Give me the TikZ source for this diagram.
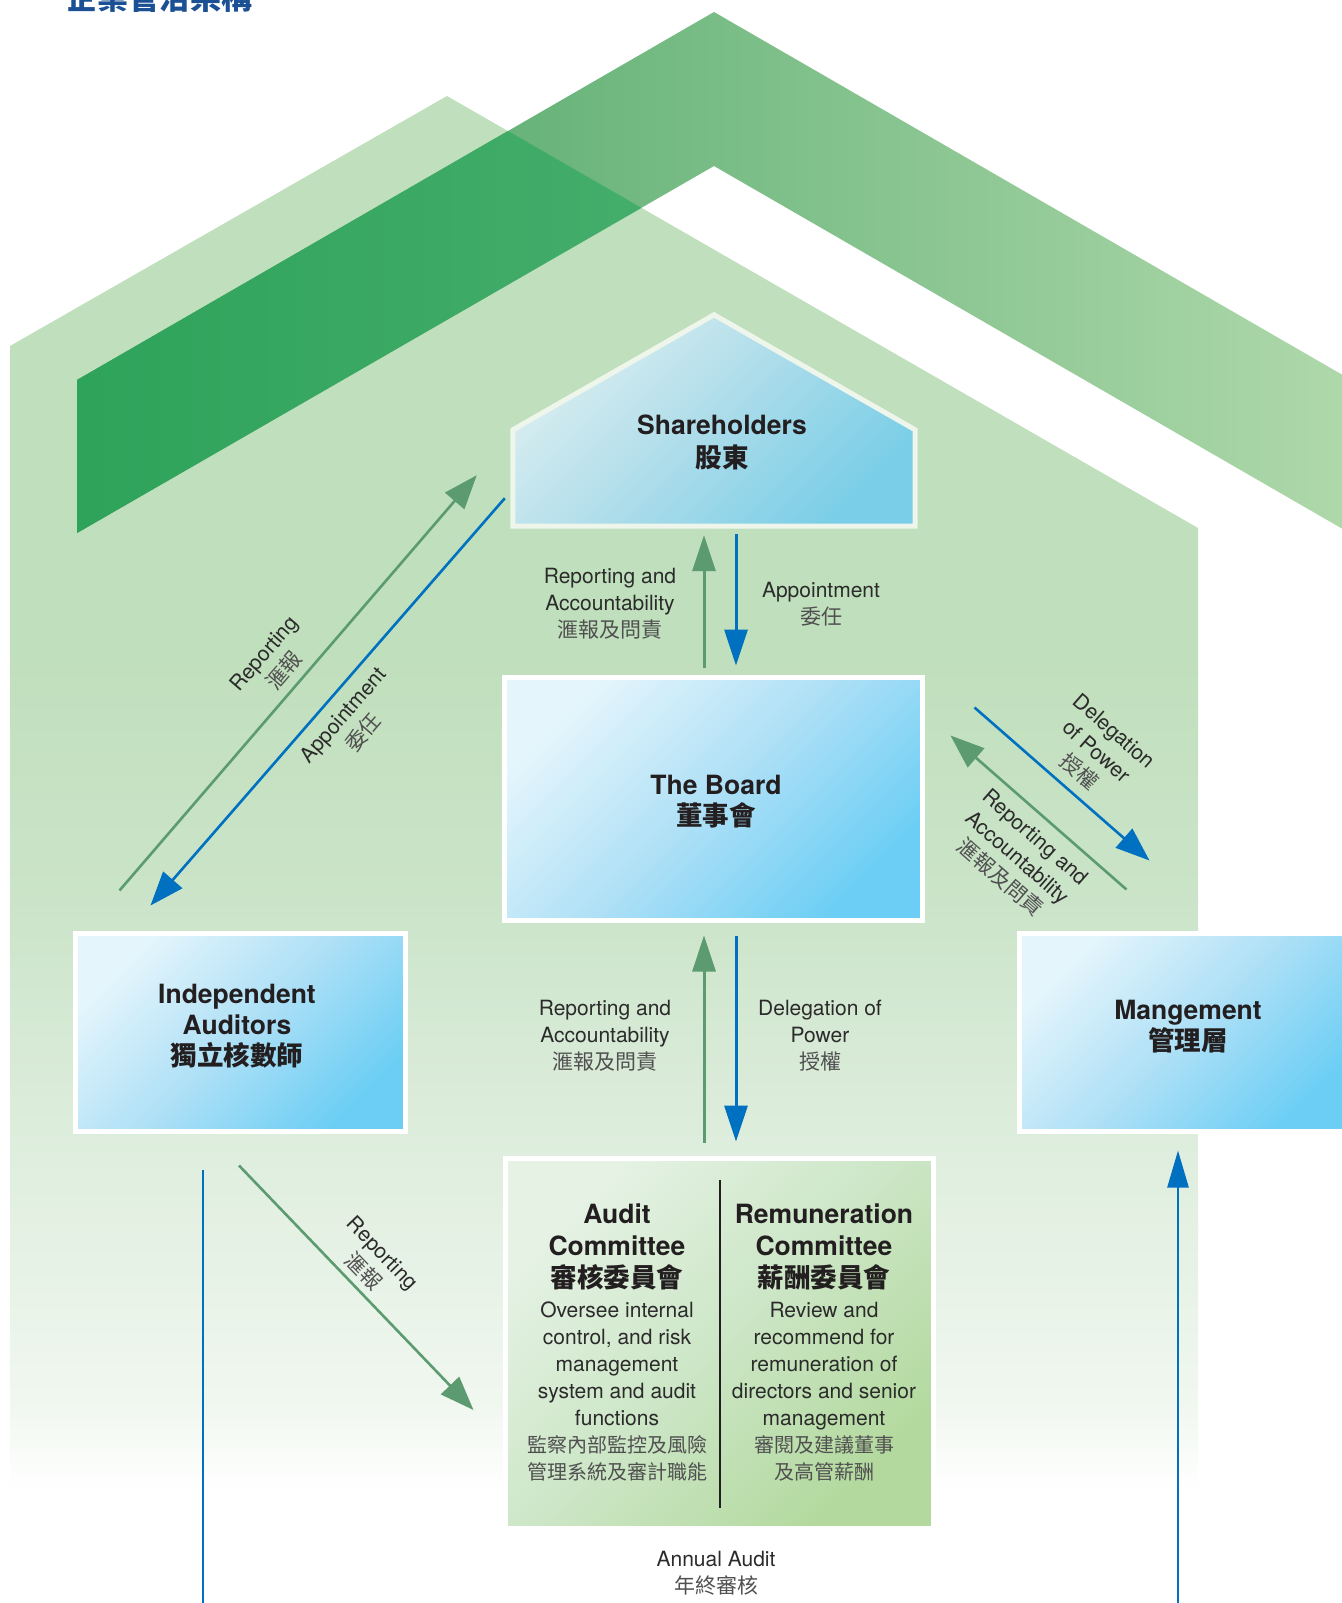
\documentclass[tikz,border=0pt]{standalone}
\usepackage{fontspec}
\setmainfont{TeX Gyre Heros}
\newfontfamily\cjk{Noto Sans CJK TC}
\usetikzlibrary{arrows.meta}

\definecolor{housegreen}{HTML}{C0DFBC}
\definecolor{fadeA}{HTML}{CBE4C9}
\definecolor{fadeB}{HTML}{DBECDA}
\definecolor{fadeC}{HTML}{F0F7EF}
\definecolor{ribL}{HTML}{42A061}
\definecolor{ribR}{HTML}{B0D9AB}
\definecolor{ribDL}{HTML}{2EA35A}
\definecolor{ribDR}{HTML}{60BA81}
\definecolor{boxA}{HTML}{E4F5FC}
\definecolor{boxB}{HTML}{AEE0F6}
\definecolor{boxC}{HTML}{6CCEF5}
\definecolor{shA}{HTML}{DAEEF0}
\definecolor{shB}{HTML}{ACDCEA}
\definecolor{shC}{HTML}{7ACEE7}
\definecolor{shborder}{HTML}{EEF6EC}
\definecolor{comA}{HTML}{E5F2E4}
\definecolor{comB}{HTML}{CCE6C6}
\definecolor{comC}{HTML}{B3D99E}
\definecolor{titlecol}{HTML}{231F20}
\definecolor{labcol}{HTML}{2B2B2B}
\definecolor{zhgray}{HTML}{505050}
\definecolor{arrowgreen}{HTML}{5B9B6F}
\definecolor{arrowblue}{HTML}{0070C0}
\definecolor{titleblue}{HTML}{1B5194}

\newcommand{\headsize}{\fontsize{26.5}{31}\selectfont}
\newcommand{\lblsize}{\fontsize{21}{27}\selectfont}
\newcommand{\zh}[1]{{\cjk\color{zhgray}#1}}

\tikzset{
  bluebox/.style={rectangle, draw=white, line width=5pt, top color=boxA, bottom color=boxC, middle color=boxB, shading angle=45},
  greenbox/.style={rectangle, draw=white, line width=5pt, top color=comA, bottom color=comC, middle color=comB, shading angle=45},
  headtext/.style={align=center, text=titlecol, font=\headsize\bfseries, inner sep=0pt},
  lbl/.style={align=center, text=labcol, font=\lblsize, inner sep=1pt},
  grnline/.style={draw=arrowgreen, line width=2.6pt},
  bluline/.style={draw=arrowblue, line width=2.6pt},
  bigtip/.tip={Triangle[length=36pt, width=23pt]},
  diagtip/.tip={Triangle[length=34pt, width=25pt]}
}

\begin{document}
\begin{tikzpicture}[x=1pt, y=-1pt]
\useasboundingbox (0,0) rectangle (1341,1603);

% background house and its fade
\fill[housegreen] (10,346) -- (447,96) -- (1198,528) -- (1198,650.5) -- (10,650.5) -- cycle;
\shade[top color=housegreen, bottom color=fadeA] (10,650) rectangle (1198,900.5);
\shade[top color=fadeA, bottom color=fadeB] (10,900) rectangle (1198,1100.5);
\shade[top color=fadeB, bottom color=fadeC] (10,1100) rectangle (1198,1400.5);
\shade[top color=fadeC, bottom color=white] (10,1400) rectangle (1198,1492);

% ribbon
\shade[left color=ribL, right color=ribR] (77,380) -- (714,12) -- (1360,385) -- (1360,539) -- (714,166) -- (77,533) -- cycle;
\begin{scope}
  \clip (10,346) -- (447,96) -- (1198,528) -- (1198,1500) -- (10,1500) -- cycle;
  \shade[left color=ribDL, right color=ribDR] (77,380) -- (714,12) -- (1360,385) -- (1360,539) -- (714,166) -- (77,533) -- cycle;
\end{scope}

% title
\node[anchor=base west, inner sep=0pt, text=titleblue, font=\fontsize{31}{31}\selectfont\cjk\bfseries] (title) at (66,10) {企業管治架構};

% boxes
\node[minimum width=402pt, minimum height=96pt, inner sep=0pt] (sh) at (714,478) {};
\path[top color=shA, bottom color=shC, middle color=shB, shading angle=45, draw=shborder, line width=5pt]
  (sh.south west) -- (sh.north west) -- ([yshift=115pt]sh.north) -- (sh.north east) -- (sh.south east) -- cycle;
\node[headtext] (shtext) at (722,442) {Shareholders\\[2pt]{\cjk 股東}};

\node[bluebox, minimum width=418pt, minimum height=243pt] (board) at (713.5,799) {};
\node[headtext] (boardtext) at (716,802) {The Board\\{\cjk 董事會}};

\node[bluebox, minimum width=330pt, minimum height=198pt] (ia) at (240.5,1032.5) {};
\node[headtext] (iatext) at (237,1026) {Independent\\Auditors\\{\cjk 獨立核數師}};

\node[bluebox, minimum width=337pt, minimum height=198pt] (mang) at (1188,1032.5) {};
\node[headtext] (mangtext) at (1188,1027) {Mangement\\{\cjk 管理層}};

\node[greenbox, minimum width=428pt, minimum height=370pt] (comm) at (719.5,1343.5) {};
\draw[titlecol, line width=2pt] ([yshift=-23.5pt]comm.north) -- ([yshift=23.5pt]comm.south);

\node[lbl, inner sep=0pt] (audit) at (617,1342) {{\headsize\bfseries\color{titlecol}Audit}\\[5pt]{\headsize\bfseries\color{titlecol}Committee}\\[5pt]{\headsize\bfseries\color{titlecol}\cjk 審核委員會}\\[3pt]Oversee internal\\control, and risk\\management\\system and audit\\functions\\\zh{\fontsize{20}{26}\selectfont 監察內部監控及風險}\\\zh{\fontsize{20}{26}\selectfont 管理系統及審計職能}};
\node[lbl, inner sep=0pt] (remun) at (824,1342) {{\headsize\bfseries\color{titlecol}Remuneration}\\[5pt]{\headsize\bfseries\color{titlecol}Committee}\\[5pt]{\headsize\bfseries\color{titlecol}\cjk 薪酬委員會}\\[3pt]Review and\\recommend for\\remuneration of\\directors and senior\\management\\\zh{\fontsize{20}{26}\selectfont 審閱及建議董事}\\\zh{\fontsize{20}{26}\selectfont 及高管薪酬}};

% vertical connectors
\coordinate (gx) at (704,0);
\coordinate (bx) at (736,0);
\draw[grnline, line width=3pt, -{bigtip}, shorten <=7.5pt, shorten >=9pt] (board.north -| gx) -- (sh.south -| gx);
\draw[bluline, line width=3pt, -{bigtip}, shorten <=8pt, shorten >=9.5pt] (sh.south -| bx) -- (board.north -| bx);
\draw[grnline, line width=3pt, -{bigtip}, shorten <=13.5pt, shorten >=12.5pt] (comm.north -| gx) -- (board.south -| gx);
\draw[bluline, line width=3pt, -{bigtip}, shorten <=12.5pt, shorten >=14.5pt] (board.south -| bx) -- (comm.north -| bx);

\node[lbl] (upreport) at (610,604) {Reporting and\\Accountability\\\zh{滙報及問責}};
\node[lbl] (upappoint) at (821,604) {Appointment\\\zh{委任}};
\node[lbl] (lowreport) at (605,1036) {Reporting and\\Accountability\\\zh{滙報及問責}};
\node[lbl] (lowdeleg) at (820,1036) {Delegation of\\Power\\\zh{授權}};

% diagonal connectors
\draw[grnline, -{diagtip}] ([shift={(46.5,-40.5)}]ia.north west) -- ([shift={(-36,-51)}]sh.south west)
  node[lbl, sloped, pos=0.5, above=7pt] {Reporting\\\zh{滙報}};
\draw[bluline, {diagtip}-] ([shift={(77.5,-25.5)}]ia.north west) -- ([shift={(-8,-28)}]sh.south west)
  node[lbl, sloped, pos=0.5, below=10pt] {Appointment\\\zh{委任}};
\draw[bluline, -{diagtip}] ([shift={(49.5,32.5)}]board.north east) -- ([shift={(132.5,-70.5)}]mang.north west)
  node[lbl, sloped, pos=0.52, above=9pt] {Delegation\\of Power\\\zh{授權}};
\draw[grnline, {diagtip}-] ([shift={(25.5,60.5)}]board.north east) -- ([shift={(109.5,-41.5)}]mang.north west)
  node[lbl, sloped, pos=0.56, below=10pt] {Reporting and\\Accountability\\\zh{滙報及問責}};
\draw[grnline, -{diagtip}] ([shift={(-1.5,31.5)}]ia.south) -- ([shift={(-29.5,66.5)}]comm.west)
  node[lbl, sloped, pos=0.48, above=5pt] {Reporting\\\zh{滙報}};

% annual audit
\coordinate (annL) at (203,1625);
\coordinate (annR) at (1178,1625);
\draw[bluline, line width=2.5pt, shorten <=35.5pt] (ia.south -| annL) -- (annL);
\draw[bluline, line width=2.5pt, -{Triangle[length=37pt, width=21pt]}, shorten >=16.5pt] (annR) -- (annR |- mang.south);
\node[lbl] (annual) at (716,1573) {Annual Audit\\\zh{年終審核}};
\end{tikzpicture}
\end{document}
